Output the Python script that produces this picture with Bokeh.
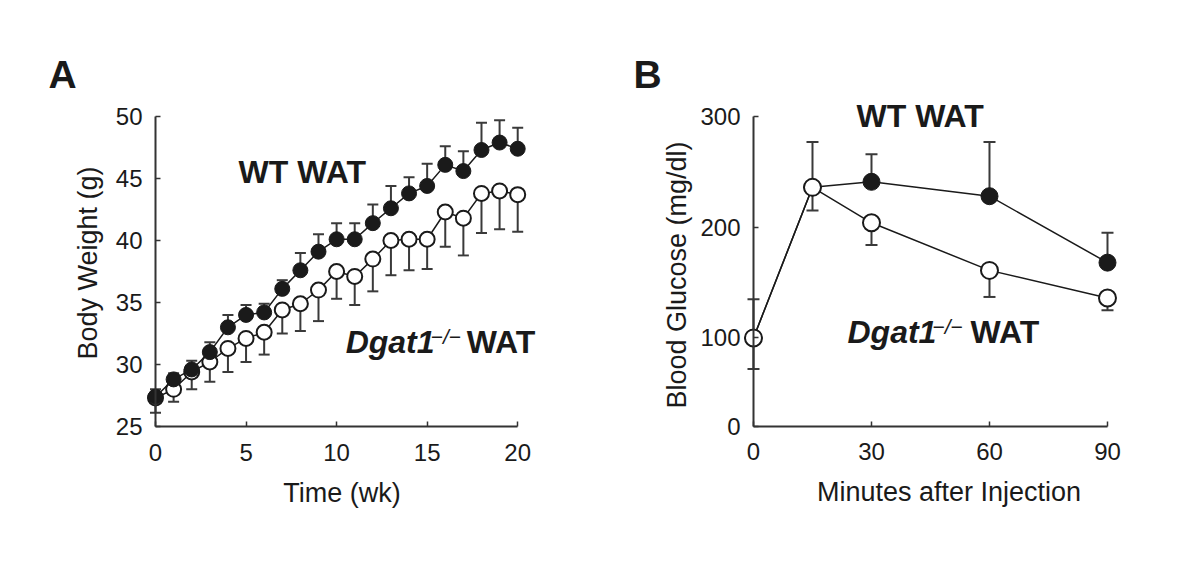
import math
from bokeh.plotting import figure
from bokeh.models import Range1d, FixedTicker, ColumnDataSource, Label
from bokeh.layouts import row
from bokeh.embed import file_html
from bokeh.resources import INLINE

# ---------------- Panel A data ----------------
weeks = list(range(21))
wt_bw = [27.4, 28.8, 29.6, 31.0, 33.0, 34.0, 34.2, 36.1, 37.6, 39.1, 40.1,
         40.1, 41.4, 42.6, 43.8, 44.4, 46.1, 45.6, 47.3, 47.9, 47.4]
wt_bw_upper = [28.0, 29.3, 30.3, 31.8, 34.0, 34.8, 34.9, 36.8, 39.0, 40.5, 41.4,
               41.4, 42.9, 44.4, 45.1, 46.2, 47.6, 47.2, 49.5, 49.7, 49.1]
ko_bw = [27.3, 28.0, 29.4, 30.2, 31.3, 32.1, 32.6, 34.4, 34.9, 36.0, 37.5,
         37.1, 38.5, 40.0, 40.1, 40.1, 42.3, 41.8, 43.8, 44.0, 43.7]
ko_bw_lower = [26.1, 27.0, 28.0, 28.6, 29.4, 30.2, 30.8, 32.5, 32.7, 33.5, 35.3,
               34.8, 35.9, 37.2, 37.6, 37.7, 39.5, 38.8, 40.6, 40.9, 40.7]
a_xticks = [0, 5, 10, 15, 20]
a_yticks = [25, 30, 35, 40, 45, 50]

# ---------------- Panel B data ----------------
minutes = [0, 15, 30, 60, 90]
wt_bg = [100, 236, 241, 228, 168]
wt_bg_upper = [135, 277, 266, 277, 195]
ko_bg = [100, 236, 204, 161, 136]
ko_bg_lower = [72, 215, 184, 137, 125]
b_xticks = [0, 30, 60, 90]
b_yticks = [20, 100, 200, 300]
b_ytick_labels = {20: "0"}

FONT = "Liberation Sans"
INK = "#1a1a1a"
AXIS = "#333333"
BAR = "#3a3a3a"


def style(p, xticks, yticks, xbounds, ybounds):
    p.outline_line_color = None
    p.xgrid.grid_line_color = None
    p.ygrid.grid_line_color = None
    p.background_fill_color = "white"
    p.border_fill_color = "white"
    p.xaxis.ticker = FixedTicker(ticks=xticks)
    p.yaxis.ticker = FixedTicker(ticks=yticks)
    p.xaxis.bounds = xbounds
    p.yaxis.bounds = ybounds
    p.yaxis.fixed_location = xbounds[0]
    p.xaxis.fixed_location = ybounds[0]
    for ax in (p.xaxis, p.yaxis):
        ax.axis_line_color = AXIS
        ax.axis_line_width = 2
        ax.major_tick_line_color = AXIS
        ax.major_tick_line_width = 1.5
        ax.major_tick_in = 5
        ax.major_tick_out = 0
        ax.minor_tick_line_color = None
        ax.major_label_text_font = FONT
        ax.major_label_text_font_size = "24px"
        ax.major_label_text_color = INK
    p.xaxis.major_label_standoff = 17
    p.yaxis.major_label_standoff = 13


def add_label(p, x, y, text, size, style_="bold", dx=0, dy=0,
              align="left", baseline="alphabetic", angle=0.0):
    p.add_layout(Label(x=x, y=y, text=text, x_offset=dx, y_offset=dy,
                       text_font=FONT, text_font_size=size,
                       text_font_style=style_, text_color=INK,
                       text_align=align, text_baseline=baseline,
                       angle=angle))


# ---------------- Panel A ----------------
pa = figure(frame_width=516, frame_height=462,
            min_border_left=44, min_border_right=10,
            min_border_top=50, min_border_bottom=44,
            x_range=Range1d(-6.129, 22.363), y_range=Range1d(18.065, 55.323),
            output_backend="svg", toolbar_location=None)
style(pa, a_xticks, a_yticks, (0, 20), (25, 50))

src_a_ko = ColumnDataSource(dict(x=weeks, y=ko_bw, err=ko_bw_lower))
src_a_wt = ColumnDataSource(dict(x=weeks, y=wt_bw, err=wt_bw_upper))

for src in (src_a_ko, src_a_wt):
    pa.segment(x0="x", y0="y", x1="x", y1="err", source=src,
               line_color=BAR, line_width=2)
    pa.scatter("x", "err", source=src, marker="dash", size=11,
               line_color=BAR, line_width=2)

pa.line("x", "y", source=src_a_ko, line_color=INK, line_width=1.5)
pa.scatter("x", "y", source=src_a_ko, marker="circle", size=15,
           fill_color="white", line_color=INK, line_width=2)
pa.line("x", "y", source=src_a_wt, line_color=INK, line_width=1.5)
pa.scatter("x", "y", source=src_a_wt, marker="circle", size=15,
           fill_color=INK, line_color=INK, line_width=1)

add_label(pa, -5.91, 52.34, "A", "39px", dy=13)
add_label(pa, 4.59, 44.6, "WT WAT", "32px", dy=11)
add_label(pa, 10.5, 30.9, "Dgat1", "32px", "bold italic", dy=11)
add_label(pa, 10.5, 30.9, "\u2212/\u2212", "21px", "italic", dx=85, dy=17)
add_label(pa, 10.5, 30.9, "WAT", "32px", "bold", dx=121, dy=11)
add_label(pa, -3.73, 38.19, "Body Weight (g)", "27px", "normal",
          align="center", baseline="middle", angle=math.pi / 2)
add_label(pa, 10.3, 18.9, "Time (wk)", "27px", "normal", align="center", dy=9)

# ---------------- Panel B ----------------
pb = figure(frame_width=505, frame_height=462,
            min_border_left=55, min_border_right=15,
            min_border_top=50, min_border_bottom=44,
            x_range=Range1d(-32.54, 95.85), y_range=Range1d(-57.68, 359.6),
            output_backend="svg", toolbar_location=None)
style(pb, b_xticks, b_yticks, (0, 90), (20, 300))
pb.yaxis.major_label_overrides = b_ytick_labels

src_b_wt = ColumnDataSource(dict(x=minutes, y=wt_bg, err=wt_bg_upper))
src_b_ko = ColumnDataSource(dict(x=minutes, y=ko_bg, err=ko_bg_lower))

for src in (src_b_wt, src_b_ko):
    pb.segment(x0="x", y0="y", x1="x", y1="err", source=src,
               line_color=BAR, line_width=2)
    pb.scatter("x", "err", source=src, marker="dash", size=12,
               line_color=BAR, line_width=2)

pb.line("x", "y", source=src_b_wt, line_color=INK, line_width=1.5)
pb.scatter("x", "y", source=src_b_wt, marker="circle", size=17,
           fill_color=INK, line_color=INK, line_width=1)
pb.line("x", "y", source=src_b_ko, line_color=INK, line_width=1.5)
pb.scatter("x", "y", source=src_b_ko, marker="circle", size=17,
           fill_color="white", line_color=INK, line_width=2)

add_label(pb, -30.51, 326.2, "B", "39px", dy=13)
add_label(pb, 26.19, 290.1, "WT WAT", "32px", dy=11)
add_label(pb, 23.9, 95.0, "Dgat1", "32px", "bold italic", dy=11)
add_label(pb, 23.9, 95.0, "\u2212/\u2212", "21px", "italic", dx=85, dy=17)
add_label(pb, 23.9, 95.0, "WAT", "32px", "bold", dx=123, dy=11)
add_label(pb, -19.45, 156.8, "Blood Glucose (mg/dl)", "27px", "normal",
          align="center", baseline="middle", angle=math.pi / 2)
add_label(pb, 49.7, -47.7, "Minutes after Injection", "27px", "normal",
          align="center", dy=9)

layout = row(pa, pb)
open("out.html", "w").write(file_html(layout, INLINE))
